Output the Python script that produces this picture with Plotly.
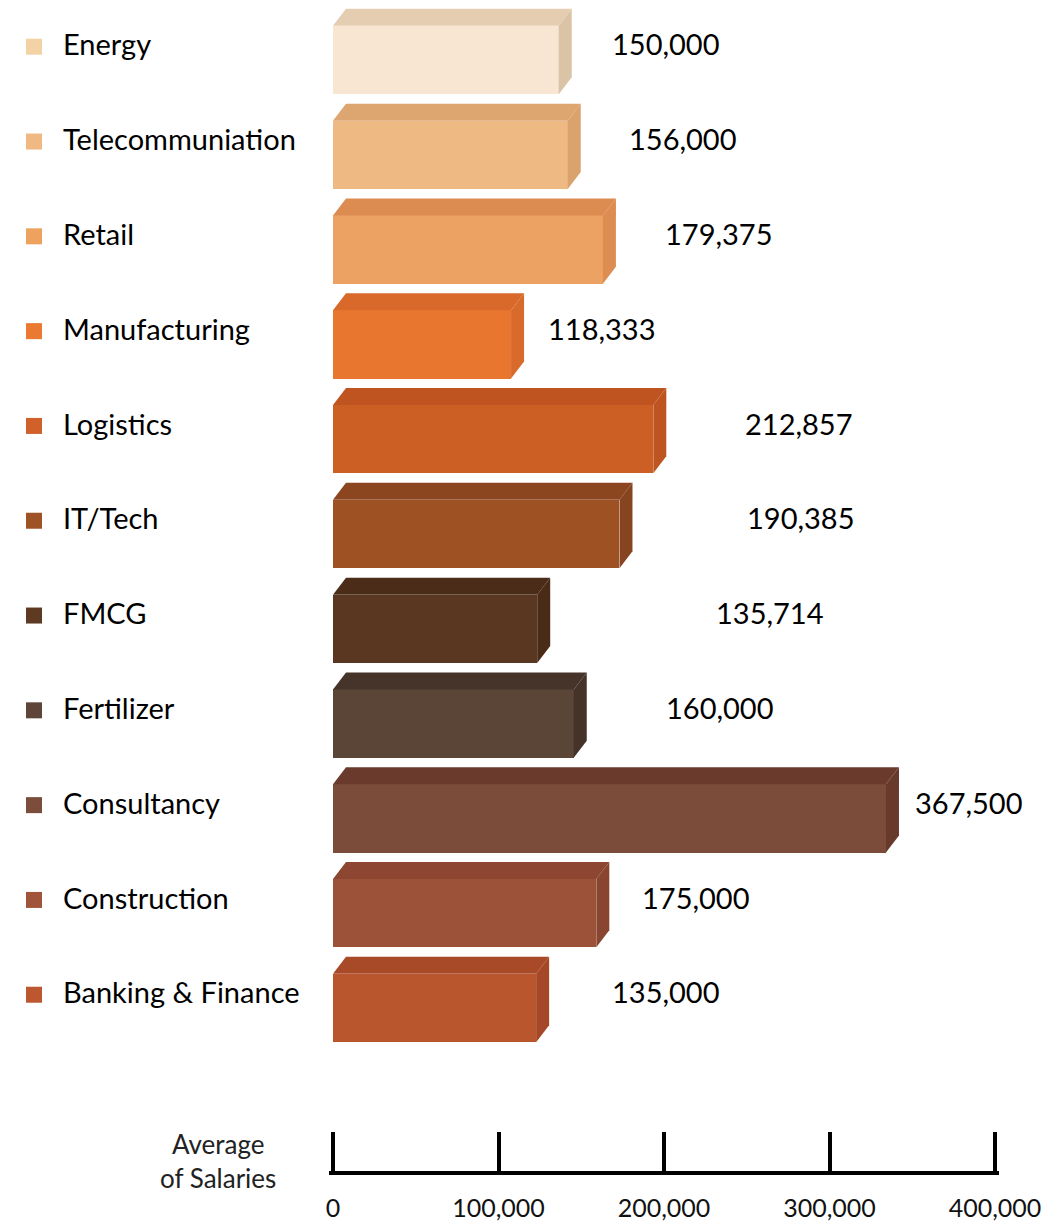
import plotly.graph_objects as go

# ---- data -------------------------------------------------------------
industries = [
    "Energy", "Telecommuniation", "Retail", "Manufacturing", "Logistics",
    "IT/Tech", "FMCG", "Fertilizer", "Consultancy", "Construction",
    "Banking & Finance",
]
salaries = [150000, 156000, 179375, 118333, 212857, 190385, 135714,
            160000, 367500, 175000, 135000]
value_labels = ["150,000", "156,000", "179,375", "118,333", "212,857",
                "190,385", "135,714", "160,000", "367,500", "175,000",
                "135,000"]
axis_ticks = [0, 100000, 200000, 300000, 400000]
axis_tick_labels = ["0", "100,000", "200,000", "300,000", "400,000"]

# ---- styling ----------------------------------------------------------
front_colors = ["#F8E6D3", "#EFB984", "#EBA262", "#E8762F", "#CC5F24",
                "#9E5224", "#5A3720", "#5B4537", "#7B4C39", "#9C5238",
                "#BA562E"]
top_colors = ["#E5CDB2", "#DDA56F", "#DC8B51", "#D9692B", "#BF5420",
              "#8B4620", "#4A2C19", "#46342A", "#6A3B2C", "#8C4631",
              "#A84928"]
side_colors = ["#DBC3A6", "#DAA26C", "#DD8C52", "#D86A2C", "#BE5521",
               "#874420", "#4A2B18", "#45332A", "#683A2B", "#8A4530",
               "#A64828"]
legend_colors = ["#F3D3A6", "#F0B983", "#EDA25F", "#EA7932", "#D0612A",
                 "#9E5226", "#5E3A22", "#5F4538", "#7C4D3A", "#A0553A",
                 "#BD572F"]
# horizontal gap (px) between each bar's front face and its value label
label_gap_px = [51, 59, 60, 35, 90, 126, 177, 90, 27, 44, 74]

FONT = "Lato, 'Open Sans', sans-serif"
W, H = 1053, 1226
PLOT_LEFT = 333            # px where the bars start
BAR_X_MAX = 478500         # bar axis range end
BAR_PX = W - PLOT_LEFT     # px width of the bar axis
ROW_PX = 94.8              # px between bar rows
BAR_WIDTH = 0.72           # front face height, in row units
DEPTH_X_PX = 13            # 3D depth offset, px
DEPTH_Y_PX = 17

# salary scale: 0 .. 400,000 spans px 333 .. 995, padded a little so the
# end ticks are kept
SCALE_RIGHT = 995
SCALE_PAD = 2500
SCALE_LINE_PX = 1171       # baseline of the scale
SCALE_TICK_PX = 39         # tick height
scale_px_per_unit = (SCALE_RIGHT - PLOT_LEFT) / axis_ticks[-1]
scale_dom = [(PLOT_LEFT - SCALE_PAD * scale_px_per_unit) / W,
             (SCALE_RIGHT + SCALE_PAD * scale_px_per_unit) / W]

units_per_px = BAR_X_MAX / BAR_PX
dx = DEPTH_X_PX * units_per_px
dy = DEPTH_Y_PX / ROW_PX

rows = list(range(len(industries)))

fig = go.Figure()

# front faces
fig.add_trace(go.Bar(
    x=salaries, y=rows, orientation="h", width=BAR_WIDTH,
    marker=dict(color=front_colors, line=dict(width=0)),
    xaxis="x", yaxis="y", showlegend=False, hoverinfo="skip",
))

# top and side faces for the 3D look
for i, v in enumerate(salaries):
    top = i - BAR_WIDTH / 2
    bot = i + BAR_WIDTH / 2
    fig.add_trace(go.Scatter(
        x=[0, v, v + dx, dx, 0],
        y=[top, top, top - dy, top - dy, top],
        mode="lines", fill="toself", fillcolor=top_colors[i],
        line=dict(width=0), xaxis="x", yaxis="y",
        showlegend=False, hoverinfo="skip",
    ))
    fig.add_trace(go.Scatter(
        x=[v, v + dx, v + dx, v, v],
        y=[top, top - dy, bot - dy, bot, top],
        mode="lines", fill="toself", fillcolor=side_colors[i],
        line=dict(width=0), xaxis="x", yaxis="y",
        showlegend=False, hoverinfo="skip",
    ))

# legend squares on the left
LABEL_SHIFT = -0.17
fig.add_trace(go.Scatter(
    x=[34] * len(rows), y=[r + LABEL_SHIFT + 0.03 for r in rows],
    mode="markers",
    marker=dict(symbol="square", size=16, color=legend_colors,
                line=dict(width=0)),
    xaxis="x3", yaxis="y", showlegend=False, hoverinfo="skip",
))

# invisible anchor so the salary scale subplot is rendered
fig.add_trace(go.Scatter(
    x=[axis_ticks[0], axis_ticks[-1]], y=[0, 0], mode="markers",
    marker=dict(size=0.1, opacity=0), xaxis="x2", yaxis="y2",
    showlegend=False, hoverinfo="skip",
))

annotations = []
for i, name in enumerate(industries):
    annotations.append(dict(
        x=61 / W, xref="paper", y=i + LABEL_SHIFT, yref="y",
        text=name, showarrow=False, xanchor="left", yanchor="middle",
        font=dict(family=FONT, size=29, color="#000000"),
    ))
    annotations.append(dict(
        x=salaries[i], xref="x", y=i + LABEL_SHIFT, yref="y",
        text=value_labels[i], showarrow=False, xanchor="left",
        yanchor="middle", xshift=label_gap_px[i],
        font=dict(family=FONT, size=29, color="#000000"),
    ))

annotations.append(dict(
    x=218 / W, xref="paper", y=1 - 1161 / H, yref="paper",
    text="Average<br>of Salaries", showarrow=False,
    xanchor="center", yanchor="middle", align="center",
    font=dict(family=FONT, size=26, color="#222222"),
))

# y mapping for the bar rows
top_px, bottom_px = 0, 1100
first_center_px = 60
y_top = (top_px - first_center_px) / ROW_PX
y_bot = (bottom_px - first_center_px) / ROW_PX

fig.update_layout(
    width=W, height=H,
    margin=dict(l=0, r=0, t=0, b=0),
    paper_bgcolor="white", plot_bgcolor="rgba(0,0,0,0)",
    font=dict(family=FONT),
    bargap=0,
    xaxis=dict(domain=[PLOT_LEFT / W, 1], range=[0, BAR_X_MAX],
               visible=False, fixedrange=True),
    yaxis=dict(domain=[1 - bottom_px / H, 1 - top_px / H],
               range=[y_bot, y_top], visible=False, fixedrange=True),
    xaxis3=dict(domain=[0, PLOT_LEFT / W], range=[0, PLOT_LEFT],
                visible=False, anchor="y", fixedrange=True),
    # salary scale at the bottom
    xaxis2=dict(
        domain=scale_dom,
        range=[axis_ticks[0] - SCALE_PAD, axis_ticks[-1] + SCALE_PAD],
        anchor="y2", showline=True, linewidth=4, linecolor="#000000",
        ticks="inside", ticklen=SCALE_TICK_PX, tickwidth=3.5,
        tickcolor="#000000",
        tickvals=axis_ticks, ticktext=axis_tick_labels,
        tickfont=dict(family=FONT, size=25, color="#111111"),
        ticklabelstandoff=12, showgrid=False, zeroline=False,
        automargin=False, fixedrange=True,
    ),
    yaxis2=dict(domain=[1 - SCALE_LINE_PX / H,
                        1 - (SCALE_LINE_PX - SCALE_TICK_PX) / H],
                range=[0, 1], visible=False, anchor="x2",
                fixedrange=True, automargin=False),
    annotations=annotations,
)

fig.write_html("out.html")
